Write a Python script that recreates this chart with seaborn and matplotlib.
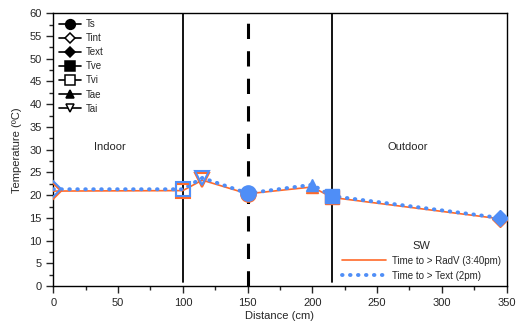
import matplotlib
matplotlib.use("Agg")
import matplotlib.pyplot as plt
from matplotlib.lines import Line2D
from matplotlib.ticker import MultipleLocator
import seaborn as sns
import pandas as pd

# Sensor positions through the wall section (cm) and their labels
distance = [0, 100, 115, 150, 200, 215, 345]
sensors = ["Tint", "Tvi", "Tai", "Ts", "Tae", "Tve", "Text"]

# Temperatures (ºC) for the two time instants
temp_radv = [20.9, 21.0, 23.3, 20.3, 21.8, 19.5, 14.8]
temp_text = [21.3, 21.3, 23.8, 20.4, 22.3, 19.8, 15.0]

legend_names = ["Ts", "Tint", "Text", "Tve", "Tvi", "Tae", "Tai"]
marker_of = {"Ts": "o", "Tint": "D", "Text": "D", "Tve": "s",
             "Tvi": "s", "Tae": "^", "Tai": "v"}
filled_of = {"Ts": True, "Tint": False, "Text": True, "Tve": True,
             "Tvi": False, "Tae": True, "Tai": False}
size_of = {"Ts": 11, "Tint": 8, "Text": 8, "Tve": 10, "Tvi": 10, "Tae": 8, "Tai": 10}
key_size = {"Ts": 7, "Tint": 5, "Text": 5.5, "Tve": 6.5, "Tvi": 6.5, "Tae": 5.5, "Tai": 6}

wall_lines = [100, 215]
mid_line = 150

orange = "#ff6a2a"
blue = "#4f8ef7"
dotted = (0, (0.15, 1.9))

df = pd.DataFrame({"distance": distance, "sensor": sensors,
                   "radv": temp_radv, "text": temp_text})

sns.set_style("ticks")
plt.rcParams["font.family"] = ["Liberation Sans", "DejaVu Sans"]

fig = plt.figure(figsize=(5.18, 3.24), dpi=100)
ax = fig.add_axes([0.103, 0.117, 0.875, 0.842])

sns.lineplot(data=df, x="distance", y="radv", ax=ax, color=orange,
             lw=1.2, zorder=3)
sns.lineplot(data=df, x="distance", y="text", ax=ax, color=blue,
             lw=2.8, ls=dotted, zorder=4)
ax.lines[-1].set_dash_capstyle("round")

for _, row in df.iterrows():
    s = row["sensor"]
    m = marker_of[s]
    ms = size_of[s]
    if filled_of[s]:
        ax.plot(row["distance"], row["radv"], marker=m, ms=ms, color=orange,
                mec=orange, ls="none", zorder=5)
        ax.plot(row["distance"], row["text"], marker=m, ms=ms, color=blue,
                mec=blue, ls="none", zorder=6)
    else:
        ax.plot(row["distance"], row["radv"], marker=m, ms=ms, mfc="none",
                mec=orange, mew=1.5, ls="none", zorder=5)
        ax.plot(row["distance"], row["text"], marker=m, ms=ms, mfc="none",
                mec=blue, mew=1.5, ls="none", zorder=6)

for xv in wall_lines:
    ax.plot([xv, xv], [1, 60], color="black", lw=1.3, zorder=2)
ax.plot([mid_line, mid_line], [0, 60], color="black", lw=2.2,
        ls=(0, (5, 4)), zorder=2)

ax.text(44, 30.5, "Indoor", fontsize=8, ha="center", va="center")
ax.text(274, 30.5, "Outdoor", fontsize=8, ha="center", va="center")

ax.set_xlim(0, 350)
ax.set_ylim(0, 60)
ax.xaxis.set_major_locator(MultipleLocator(50))
ax.xaxis.set_minor_locator(MultipleLocator(25))
ax.yaxis.set_major_locator(MultipleLocator(5))
ax.yaxis.set_minor_locator(MultipleLocator(2.5))
ax.tick_params(which="major", length=5, width=1, labelsize=8, direction="out")
ax.tick_params(which="minor", length=3, width=1, direction="out")
ax.set_xlabel("Distance (cm)", fontsize=8, labelpad=2.5)
ax.set_ylabel("Temperature (ºC)", fontsize=8, labelpad=5)
for sp in ax.spines.values():
    sp.set_visible(True)
    sp.set_linewidth(1.0)
    sp.set_color("black")

# Symbol key
handles = []
for name in legend_names:
    fill = "black" if filled_of[name] else "white"
    handles.append(Line2D([], [], color="black", lw=1.2, marker=marker_of[name],
                          ms=key_size[name], mfc=fill, mec="black", mew=1.1))
leg1 = ax.legend(handles, legend_names, loc="upper left", frameon=False,
                 fontsize=7, handlelength=2.2, handletextpad=0.5,
                 labelspacing=0.42, borderaxespad=0.2,
                 bbox_to_anchor=(0.0, 1.0))
ax.add_artist(leg1)

# Time instants key
h2 = [Line2D([], [], color=orange, lw=1.2),
      Line2D([], [], color=blue, lw=2.8, ls=dotted, dash_capstyle="round")]
leg2 = ax.legend(h2, ["Time to > RadV (3:40pm)", "Time to > Text (2pm)"],
                 title="SW", loc="lower right", frameon=False, fontsize=7,
                 title_fontsize=8, handlelength=4.6, handletextpad=0.6,
                 labelspacing=0.5, borderaxespad=0.15,
                 bbox_to_anchor=(1.0, 0.0))

fig.savefig("out.png", dpi=100)
